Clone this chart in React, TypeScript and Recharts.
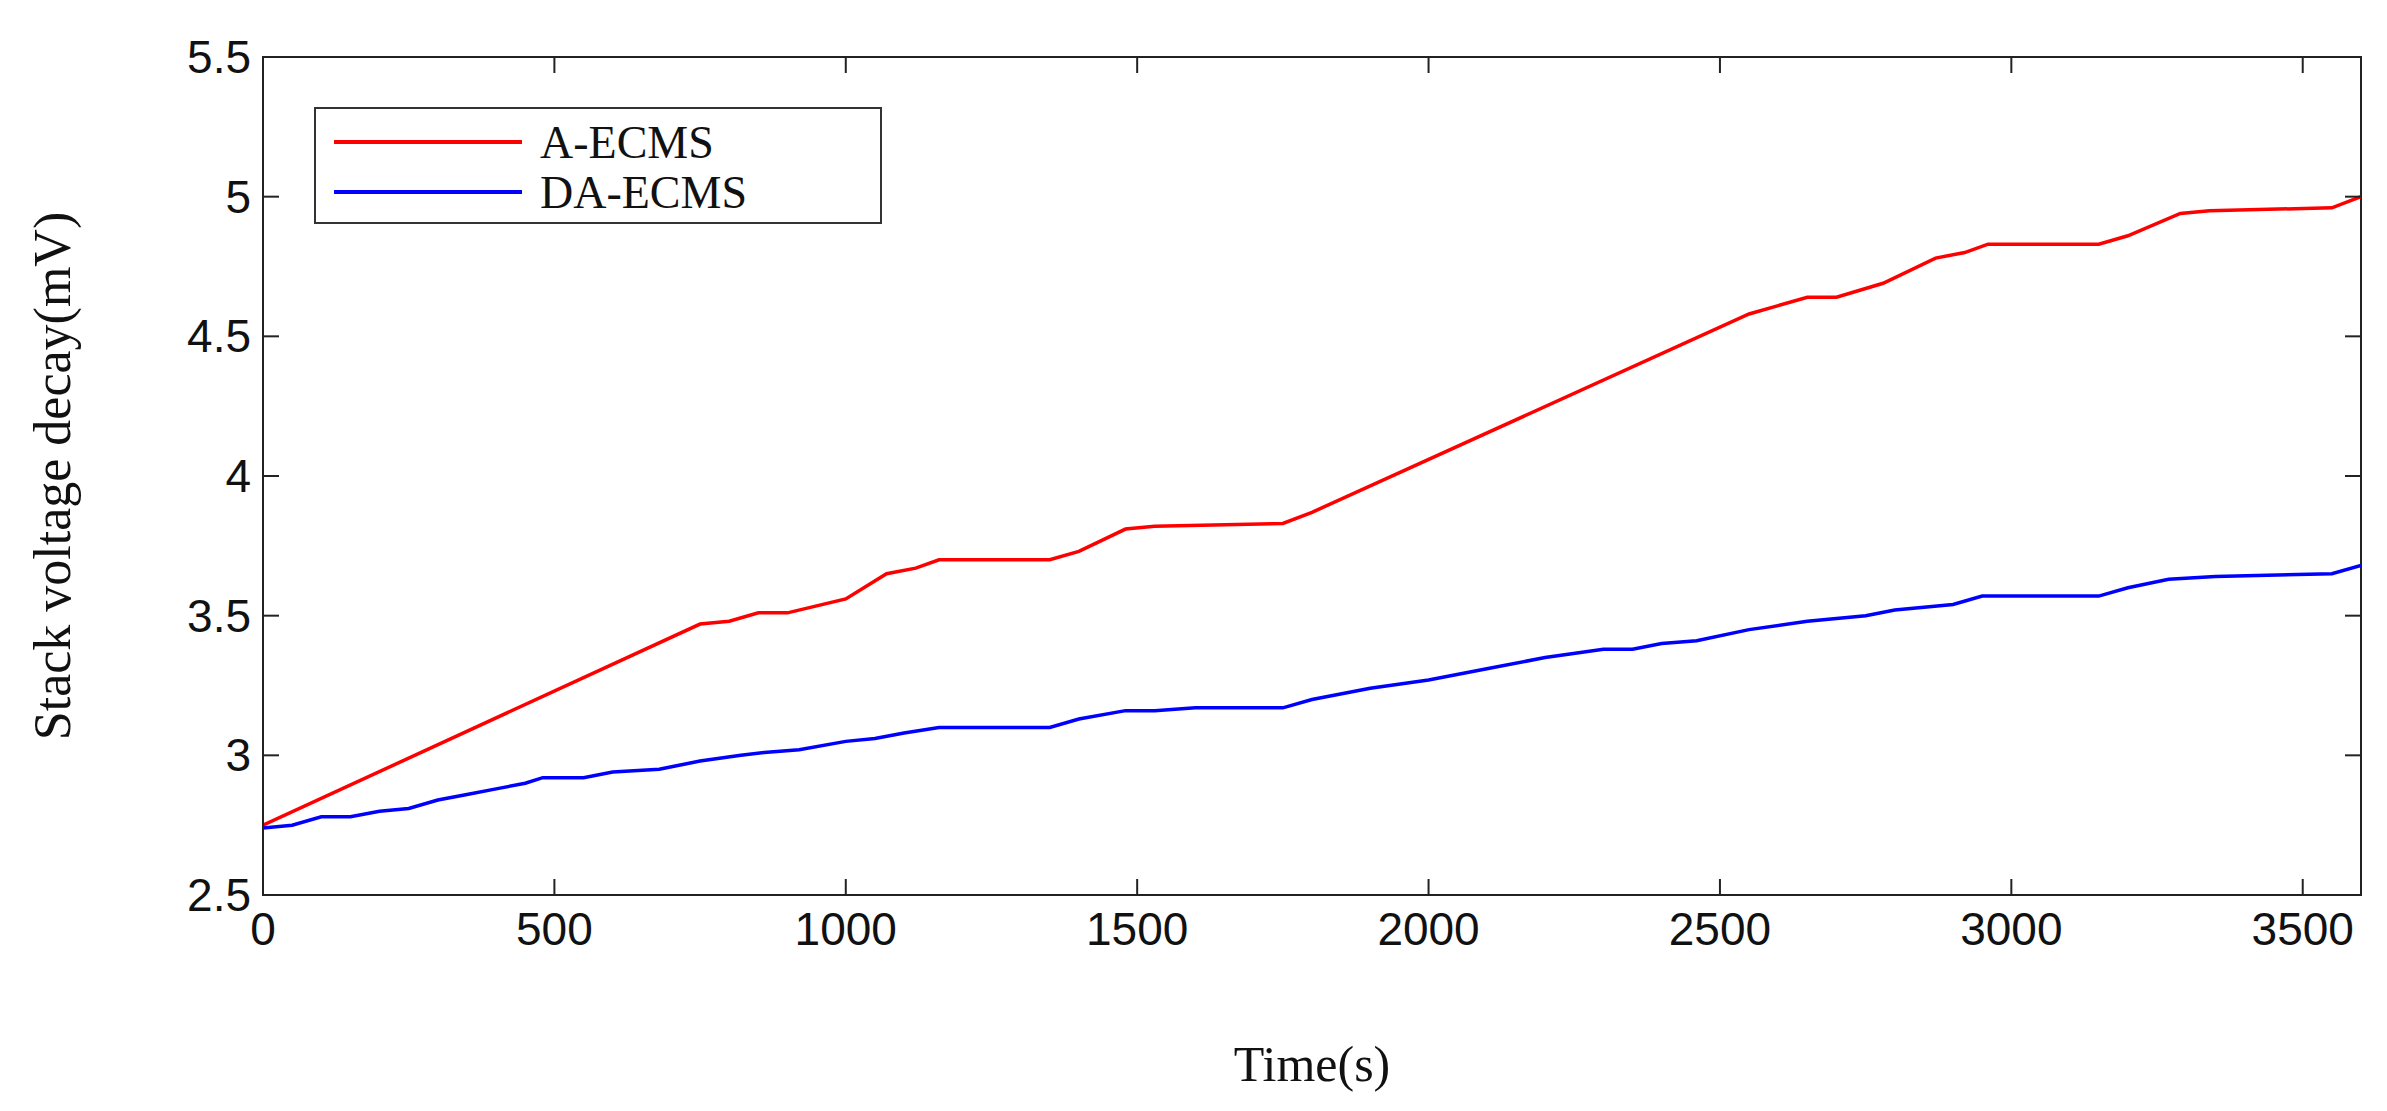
import React from 'react';
import { LineChart, Line, XAxis, YAxis, ReferenceArea } from 'recharts';

const redTime = [0, 750, 800, 850, 900, 1000, 1070, 1120, 1160, 1350, 1400, 1480, 1530, 1750, 1800, 2550, 2600, 2650, 2700, 2780, 2870, 2920, 2960, 3150, 3200, 3290, 3340, 3550, 3600];
const redValues = [2.75, 3.47, 3.48, 3.51, 3.51, 3.56, 3.65, 3.67, 3.70, 3.70, 3.73, 3.81, 3.82, 3.83, 3.87, 4.58, 4.61, 4.64, 4.64, 4.69, 4.78, 4.80, 4.83, 4.83, 4.86, 4.94, 4.95, 4.96, 5.0];
const blueTime = [0, 50, 100, 150, 200, 250, 300, 350, 400, 450, 480, 550, 600, 680, 750, 820, 860, 920, 1000, 1050, 1100, 1160, 1350, 1400, 1480, 1530, 1600, 1750, 1800, 1900, 2000, 2100, 2200, 2300, 2350, 2400, 2460, 2550, 2650, 2750, 2800, 2900, 2950, 3150, 3200, 3270, 3350, 3550, 3600];
const blueValues = [2.74, 2.75, 2.78, 2.78, 2.80, 2.81, 2.84, 2.86, 2.88, 2.90, 2.92, 2.92, 2.94, 2.95, 2.98, 3.00, 3.01, 3.02, 3.05, 3.06, 3.08, 3.10, 3.10, 3.13, 3.16, 3.16, 3.17, 3.17, 3.20, 3.24, 3.27, 3.31, 3.35, 3.38, 3.38, 3.40, 3.41, 3.45, 3.48, 3.50, 3.52, 3.54, 3.57, 3.57, 3.60, 3.63, 3.64, 3.65, 3.68];
const xTicks = [0, 500, 1000, 1500, 2000, 2500, 3000, 3500];
const yTicks = [2.5, 3, 3.5, 4, 4.5, 5, 5.5];

const redData = redTime.map((t, i) => ({ t, v: redValues[i] }));
const blueData = blueTime.map((t, i) => ({ t, v: blueValues[i] }));

const W = 2371, H = 1095;
const M = { top: 49, right: 18, bottom: 0, left: 0 };
const YW = 255, XH = 208;
const plotW = W - M.left - M.right - YW;
const plotH = H - M.top - M.bottom - XH;
const TL = 16;

const sansFont = 'Liberation Sans, Arial, sans-serif';
const serifFont = 'Liberation Serif, Times New Roman, serif';

const XTick = (p: any) => {
  const { x, y, payload } = p;
  return (
    <g>
      <line x1={x} x2={x} y1={y} y2={y - TL} stroke="#222" strokeWidth={2} />
      <line x1={x} x2={x} y1={y - plotH} y2={y - plotH + TL} stroke="#222" strokeWidth={2} />
      <text x={x} y={y + 50} textAnchor="middle" fontFamily={sansFont} fontSize={46} fill="#111">{payload.value}</text>
    </g>
  );
};

const YTick = (p: any) => {
  const { x, y, payload } = p;
  return (
    <g>
      <line x1={x} x2={x + TL} y1={y} y2={y} stroke="#222" strokeWidth={2} />
      <line x1={x + plotW} x2={x + plotW - TL} y1={y} y2={y} stroke="#222" strokeWidth={2} />
      <text x={x - 12} y={y + 16} textAnchor="end" fontFamily={sansFont} fontSize={46} fill="#111">{payload.value}</text>
    </g>
  );
};

export default function App() {
  return (
    <div style={{ position: 'relative', width: W, height: H, background: '#fff' }}>
      <LineChart width={W} height={H} margin={M}>
        <XAxis xAxisId="b" dataKey="t" type="number" domain={[0, 3600]} ticks={xTicks} allowDataOverflow
          stroke="#222" strokeWidth={2} tickLine={false} tickSize={0} tickMargin={0} tick={<XTick />} height={XH}
          label={{ value: 'Time(s)', position: 'insideBottom', offset: 22, style: { fontFamily: serifFont, fontSize: 50, fill: '#111' } }} />
        <YAxis yAxisId="l" type="number" domain={[2.5, 5.5]} ticks={yTicks} width={YW}
          stroke="#222" strokeWidth={2} tickLine={false} tickSize={0} tickMargin={0} tick={<YTick />}
          label={{ value: 'Stack voltage decay(mV)', angle: -90, position: 'insideLeft', offset: 44, style: { fontFamily: serifFont, fontSize: 52, fill: '#111', textAnchor: 'middle' } }} />
        <ReferenceArea xAxisId="b" yAxisId="l" x1={0} x2={3600} y1={2.5} y2={5.5} fill="none" stroke="#222" strokeWidth={2} ifOverflow="visible" />
        <Line xAxisId="b" yAxisId="l" data={redData} dataKey="v" type="linear" stroke="#ff0000" strokeWidth={3.5} dot={false} isAnimationActive={false} />
        <Line xAxisId="b" yAxisId="l" data={blueData} dataKey="v" type="linear" stroke="#0000ff" strokeWidth={3.5} dot={false} isAnimationActive={false} />
      </LineChart>
      <div style={{ position: 'absolute', left: 306, top: 99, width: 568, height: 117, border: '2px solid #333', background: '#fff', boxSizing: 'border-box' }}>
        {[['A-ECMS', '#ff0000'], ['DA-ECMS', '#0000ff']].map(([name, color]) => (
          <div key={name} style={{ display: 'flex', alignItems: 'center', height: 50, marginTop: name === 'A-ECMS' ? 8 : 0 }}>
            <div style={{ marginLeft: 18, width: 188, height: 4, background: color }} />
            <span style={{ marginLeft: 18, fontFamily: serifFont, fontSize: 46, color: '#111' }}>{name}</span>
          </div>
        ))}
      </div>
    </div>
  );
}
